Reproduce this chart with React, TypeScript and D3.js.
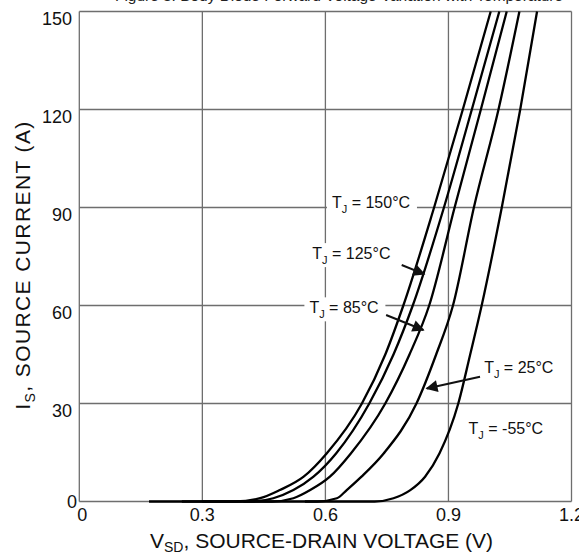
import * as d3 from 'd3';

// source current steps (A) shared by every curve
const currents = [0, 0, 1, 3.5, 7.6, 14.7, 30, 45, 60, 90, 120, 150];

const vsd150 = [0.17, 0.38, 0.441, 0.489, 0.547, 0.603, 0.689, 0.746, 0.79, 0.865, 0.935, 1.003];
const vsd125 = [0.25, 0.42, 0.473, 0.522, 0.571, 0.626, 0.707, 0.766, 0.813, 0.889, 0.957, 1.024];
const vsd85 = [0.3, 0.47, 0.522, 0.563, 0.611, 0.662, 0.746, 0.805, 0.853, 0.915, 0.979, 1.042];
const vsd25 = [0.4, 0.58, 0.628, 0.652, 0.688, 0.742, 0.822, 0.87, 0.911, 0.962, 1.022, 1.073];
const vsdM55 = [0.55, 0.72, 0.766, 0.807, 0.843, 0.878, 0.924, 0.953, 0.981, 1.03, 1.075, 1.116];

const xTicks = [0, 0.3, 0.6, 0.9, 1.2];
const yTicks = [0, 30, 60, 90, 120, 150];

const temps = ['150', '125', '85', '25', '-55'];

// label anchors (V, A) and optional arrows (tail -> tip)
const labelAt = [
  { v: 0.616, i: 89.7, w: 80 },
  { v: 0.568, i: 74.2, w: 80 },
  { v: 0.561, i: 57.6, w: 71 },
  { v: 0.987, i: 39.2, w: 71 },
  { v: 0.949, i: 20.8, w: 76 },
];
const arrows = [
  null,
  { v0: 0.786, i0: 72.4, v1: 0.841, i1: 69.6 },
  { v0: 0.748, i0: 57.1, v1: 0.839, i1: 52.5 },
  { v0: 0.977, i0: 38.2, v1: 0.847, i1: 34.6 },
  null,
];

const W = 579;
const H = 557;
const FONT = 'Arial, "Liberation Sans", Helvetica, sans-serif';
const GRID = '#6e6e6e';

export default function App() {
  const x = d3.scaleLinear().domain([0, 1.2]).range([79.3, 571.5]);
  const y = d3.scaleLinear().domain([0, 150]).range([501.5, 11.5]);

  const series = [vsd150, vsd125, vsd85, vsd25, vsdM55];
  const line = d3
    .line<[number, number]>()
    .x((d) => x(d[0]))
    .y((d) => y(d[1]))
    .curve(d3.curveMonotoneX);

  return (
    <svg
      width={W}
      height={H}
      style={{ position: 'absolute', left: 0, top: 0, background: '#fff' }}
      fontFamily={FONT}
    >
      <defs>
        <marker id="head" viewBox="0 0 10 10" refX="9" refY="5" markerWidth="6.5" markerHeight="6" orient="auto" markerUnits="strokeWidth">
          <path d="M0,0 L10,5 L0,10 z" fill="#111" />
        </marker>
      </defs>

      {/* clipped caption of the figure above */}
      <text x={115} y={0.5} fontSize={15} fill="#222" textLength={448} lengthAdjust="spacingAndGlyphs">
        Figure 8. Body Diode Forward Voltage Variation with Temperature
      </text>

      {/* grid */}
      {xTicks.map((t) => (
        <line key={'gx' + t} x1={x(t)} x2={x(t)} y1={y(150)} y2={y(0)} stroke={GRID} strokeWidth={1.3} />
      ))}
      {yTicks.map((t) => (
        <line key={'gy' + t} x1={x(0)} x2={x(1.2)} y1={y(t)} y2={y(t)} stroke={GRID} strokeWidth={1.3} />
      ))}

      {/* curves */}
      {series.map((vs, k) => (
        <path
          key={'c' + k}
          d={line(vs.map((v, j) => [v, currents[j]] as [number, number])) || ''}
          fill="none"
          stroke="#000"
          strokeWidth={2.3}
          strokeLinejoin="round"
        />
      ))}

      {/* temperature labels */}
      {temps.map((t, k) => {
        const lx = x(labelAt[k].v);
        const ly = y(labelAt[k].i);
        return (
          <g key={'l' + t}>
            <rect x={lx - 5} y={ly - 16} width={labelAt[k].w + 10} height={24} fill="#fff" />
            <text x={lx} y={ly} fontSize={16} fill="#111">
              T<tspan fontSize={11} dy={5}>J</tspan>
              <tspan dy={-5}>{` = ${t}°C`}</tspan>
            </text>
          </g>
        );
      })}

      {arrows.map((a, k) =>
        a ? (
          <line
            key={'a' + k}
            x1={x(a.v0)}
            y1={y(a.i0)}
            x2={x(a.v1)}
            y2={y(a.i1)}
            stroke="#111"
            strokeWidth={2}
            markerEnd="url(#head)"
          />
        ) : null
      )}

      {/* y tick labels */}
      {yTicks.map((t) => (
        <text
          key={'yt' + t}
          x={t === 0 ? 77 : 72}
          y={t === 0 ? 508 : y(t) + 13}
          fontSize={18}
          textAnchor="end"
          fill="#111"
        >
          {t}
        </text>
      ))}

      {/* x tick labels */}
      {xTicks.map((t) => (
        <text
          key={'xt' + t}
          x={t === 0 ? x(t) + 3 : x(t)}
          y={521}
          fontSize={18}
          textAnchor="middle"
          fill="#111"
        >
          {t === 0 ? '0' : t.toFixed(1)}
        </text>
      ))}

      {/* axis titles */}
      <text x={150} y={548} fontSize={21} fill="#111">
        V<tspan fontSize={14} dy={4}>SD</tspan>
        <tspan dy={-4}>, SOURCE-DRAIN VOLTAGE (V)</tspan>
      </text>
      <text
        transform="translate(30,265) rotate(-90)"
        fontSize={21}
        letterSpacing={1.4}
        textAnchor="middle"
        fill="#111"
      >
        I<tspan fontSize={14} dy={5}>S</tspan>
        <tspan dy={-5}>, SOURCE CURRENT (A)</tspan>
      </text>
    </svg>
  );
}
